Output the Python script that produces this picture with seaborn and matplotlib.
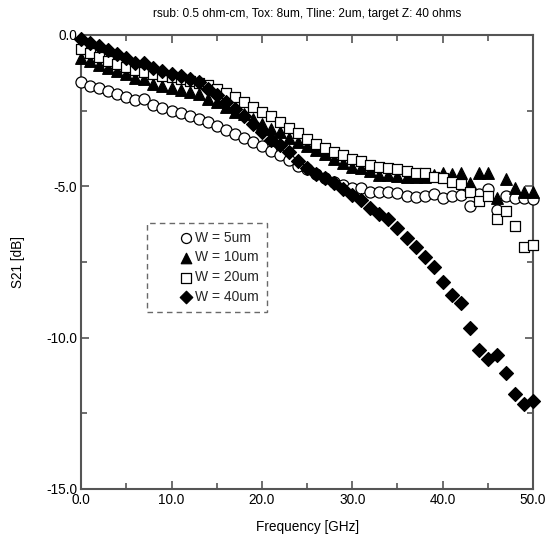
import numpy as np
import pandas as pd
import matplotlib
matplotlib.use("Agg")
import matplotlib.pyplot as plt
from matplotlib.ticker import MultipleLocator, FormatStrFormatter
import seaborn as sns

# ---- data ----
freq_ghz = list(range(0, 51))

s21_w5 = [-1.55, -1.69, -1.76, -1.84, -1.95, -2.04, -2.15, -2.12, -2.31, -2.42,
          -2.50, -2.59, -2.69, -2.76, -2.88, -3.00, -3.14, -3.26, -3.39, -3.53,
          -3.68, -3.82, -3.98, -4.14, -4.32, -4.44, -4.60, -4.74, -4.85, -4.96,
          -5.07, -5.07, -5.18, -5.18, -5.18, -5.21, -5.32, -5.34, -5.32, -5.25,
          -5.40, -5.32, -5.29, -5.65, -5.25, -5.10, -5.78, -5.32, -5.40, -5.40,
          -5.43]

s21_w10 = [-0.76, -0.87, -0.99, -1.10, -1.19, -1.30, -1.41, -1.47, -1.62, -1.69,
           -1.75, -1.82, -1.88, -1.94, -2.12, -2.21, -2.37, -2.53, -2.62, -2.77,
           -2.94, -3.09, -3.22, -3.42, -3.54, -3.66, -3.80, -3.93, -4.10, -4.22,
           -4.35, -4.40, -4.51, -4.62, -4.63, -4.66, -4.68, -4.70, -4.68, -4.63,
           -4.57, -4.60, -4.57, -4.88, -4.57, -4.55, -5.40, -4.77, -5.07, -5.18,
           -5.18]

s21_w20 = [-0.46, -0.59, -0.72, -0.85, -0.97, -1.07, -1.17, -1.22, -1.28, -1.34,
           -1.40, -1.46, -1.52, -1.59, -1.66, -1.77, -1.92, -2.05, -2.20, -2.37,
           -2.53, -2.69, -2.88, -3.08, -3.24, -3.43, -3.59, -3.72, -3.85, -3.96,
           -4.11, -4.18, -4.29, -4.37, -4.40, -4.44, -4.51, -4.55, -4.57, -4.68,
           -4.74, -4.85, -4.92, -5.18, -5.47, -5.32, -6.09, -5.80, -6.31, -6.99,
           -6.94]

s21_w40 = [-0.13, -0.25, -0.35, -0.50, -0.62, -0.75, -0.94, -0.91, -1.10, -1.20,
           -1.30, -1.36, -1.47, -1.56, -1.79, -1.97, -2.20, -2.45, -2.68, -2.93,
           -3.20, -3.48, -3.65, -3.88, -4.15, -4.38, -4.58, -4.74, -4.90, -5.10,
           -5.29, -5.45, -5.73, -5.91, -6.09, -6.39, -6.72, -6.99, -7.32, -7.65,
           -8.15, -8.59, -8.84, -9.69, -10.41, -10.71, -10.57, -11.18, -11.86, -12.19,
           -12.08]

labels = ["W = 5um", "W = 10um", "W = 20um", "W = 40um"]
title = "rsub: 0.5 ohm-cm, Tox: 8um, Tline: 2um, target Z: 40 ohms"
xlabel = "Frequency [GHz]"
ylabel = "S21 [dB]"

df = pd.DataFrame({
    "freq": freq_ghz * 4,
    "s21": s21_w5 + s21_w10 + s21_w20 + s21_w40,
    "series": sum([[lab] * len(freq_ghz) for lab in labels], []),
})

# ---- styling ----
sns.set_theme(style="white")
plt.rcParams["font.family"] = ["Liberation Sans", "DejaVu Sans"]

frame_col = "#555555"

fig = plt.figure(figsize=(5.48, 5.39), dpi=100)
ax = fig.add_axes([0.148, 0.0928, 0.8248, 0.8423])

styles = {
    "W = 5um": dict(marker="o", color="white", s=64),
    "W = 10um": dict(marker="^", color="black", s=70),
    "W = 20um": dict(marker="s", color="white", s=54),
    "W = 40um": dict(marker="D", color="black", s=50),
}

for i, lab in enumerate(labels):
    sub = df[df["series"] == lab]
    st = styles[lab]
    sns.scatterplot(data=sub, x="freq", y="s21", ax=ax, marker=st["marker"],
                    color=st["color"], edgecolor="black", linewidth=0.9,
                    s=st["s"], label=lab, zorder=3 + i, clip_on=False)

ax.set_xlim(0, 50)
ax.set_ylim(-15, 0)
ax.xaxis.set_major_locator(MultipleLocator(10))
ax.xaxis.set_minor_locator(MultipleLocator(5))
ax.yaxis.set_major_locator(MultipleLocator(5))
ax.yaxis.set_minor_locator(MultipleLocator(2.5))
ax.xaxis.set_major_formatter(FormatStrFormatter("%.1f"))
ax.yaxis.set_major_formatter(FormatStrFormatter("%.1f"))

ax.tick_params(which="both", direction="in", top=True, right=True,
               bottom=True, left=True, color=frame_col, width=1.2,
               labelsize=9.8, labelcolor="black")
ax.tick_params(which="major", length=6, pad=3)
ax.tick_params(which="minor", length=4)

for sp in ax.spines.values():
    sp.set_color(frame_col)
    sp.set_linewidth(1.5)

ax.set_xlabel(xlabel, fontsize=9.8, labelpad=9, color="black")
ax.set_ylabel(ylabel, fontsize=9.8, labelpad=15, color="black")
ax.set_title(title, fontsize=8.6, pad=13, color="black")

leg = ax.legend(loc="upper left", bbox_to_anchor=(0.146, 0.586),
                borderaxespad=0, frameon=True, fancybox=False,
                edgecolor="#444444", fontsize=10, labelspacing=0.42,
                borderpad=0.55, handlelength=4.5, handletextpad=-1.6,
                markerscale=0.9)
leg.get_frame().set_linestyle((0, (4, 3)))
leg.get_frame().set_linewidth(1.0)
leg.get_frame().set_facecolor("white")

fig.savefig("out.png", dpi=100)
